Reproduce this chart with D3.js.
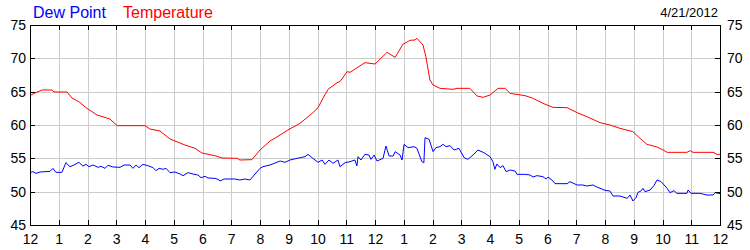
<!DOCTYPE html>
<head>
  <meta charset="utf-8">
  <script src="https://d3js.org/d3.v7.min.js"></script>
  <style>
    body { margin: 0; background: #fff; }
    svg { display: block; font-family: "Liberation Sans", Arial, sans-serif; }
    .grid line { stroke: #cccccc; shape-rendering: crispEdges; }
    .axis path, .axis line { stroke: #000; shape-rendering: crispEdges; }
    .axis text { fill: #000; font-size: 14px; font-family: "Liberation Sans", Arial, sans-serif; }
    .series { fill: none; stroke-width: 1; }
  </style>
</head>

<body>
  <svg width="750" height="250"></svg>

  <script>
    // hours since midnight, degrees F
    var tempHours = [0.00, 0.17, 0.42, 0.77, 0.83, 1.29, 1.46, 1.70, 1.98, 2.33, 2.78, 3.03, 4.00, 4.17,
      4.52, 4.87, 5.39, 5.74, 5.98, 6.43, 6.68, 7.20, 7.30, 7.72, 8.00, 8.35, 8.70, 8.97, 9.29, 9.39,
      9.84, 10.02, 10.19, 10.37, 10.68, 10.78, 11.03, 11.13, 11.65, 12.00, 12.42, 12.70, 12.97, 13.22,
      13.39, 13.46, 13.67, 13.77, 13.91, 14.02, 14.26, 14.71, 14.85, 15.30, 15.55, 15.76, 16.00, 16.28,
      16.52, 16.70, 17.22, 17.50, 17.84, 18.19, 18.68, 19.03, 19.37, 19.83, 20.17, 20.52, 20.97, 21.22,
      21.46, 21.81, 22.02, 22.16, 22.85, 22.96, 23.06, 23.76, 23.90, 24.00];
    var tempValues = [64.4, 64.8, 65.25, 65.25, 64.95, 64.95, 64.05, 63.5, 62.5, 61.5, 60.9, 59.9, 59.9, 59.4,
      59.1, 57.9, 57.0, 56.5, 55.8, 55.4, 55.05, 55.0, 54.75, 54.8, 56.25, 57.6, 58.5, 59.25, 60.0, 60.25,
      61.85, 62.6, 64.0, 65.35, 66.35, 66.5, 68.0, 67.9, 69.35, 69.15, 70.9, 70.15, 72.1, 72.7,
      72.75, 73.0, 72.0, 70.25, 66.75, 66.0, 65.5, 65.35, 65.5, 65.5, 64.35, 64.15, 64.5, 65.5,
      65.5, 64.75, 64.4, 64.0, 63.25, 62.65, 62.6, 61.85, 61.25, 60.35, 60.0, 59.5, 59.0, 58.0,
      57.1, 56.7, 56.25, 55.9, 55.9, 56.15, 55.9, 55.9, 55.6, 55.6];

    var dewHours = [0.00, 0.10, 0.21, 0.35, 0.70, 0.80, 0.90, 1.11, 1.25, 1.39, 1.53, 1.70, 1.84, 1.95,
      2.05, 2.19, 2.37, 2.47, 2.61, 2.71, 2.89, 3.13, 3.27, 3.48, 3.58, 3.69, 3.79, 3.93, 4.10, 4.28,
      4.38, 4.49, 4.63, 4.73, 4.87, 5.04, 5.22, 5.32, 5.50, 5.67, 5.84, 5.95, 6.09, 6.19, 6.43, 6.54,
      6.61, 6.75, 7.13, 7.30, 7.48, 7.65, 8.00, 8.10, 8.35, 8.70, 8.87, 9.04, 9.29, 9.57, 9.67, 9.84,
      10.02, 10.16, 10.26, 10.40, 10.54, 10.71, 10.78, 10.96, 11.13, 11.30, 11.37, 11.41, 11.51, 11.65,
      11.79, 11.86, 11.97, 12.07, 12.28, 12.38, 12.49, 12.63, 12.70, 12.87, 12.94, 13.01, 13.15, 13.36,
      13.46, 13.63, 13.70, 13.74, 13.88, 14.02, 14.12, 14.26, 14.37, 14.47, 14.61, 14.75, 14.92, 15.10,
      15.23, 15.41, 15.58, 15.79, 16.00, 16.10, 16.17, 16.24, 16.35, 16.45, 16.56, 16.70, 16.87, 16.94,
      17.22, 17.39, 17.50, 17.63, 17.84, 17.95, 18.02, 18.19, 18.26, 18.68, 18.78, 19.03, 19.23, 19.37,
      19.58, 19.72, 20.00, 20.17, 20.28, 20.52, 20.77, 20.87, 20.94, 20.97, 21.08, 21.15, 21.25, 21.32,
      21.39, 21.57, 21.70, 21.81, 21.95, 22.16, 22.26, 22.40, 22.50, 22.85, 22.89, 22.99, 23.30, 23.55,
      23.76, 23.83, 24.00];
    var dewValues = [52.85, 53.0, 52.75, 52.95, 53.05, 53.5, 52.9, 52.9, 54.35, 53.75, 54.0, 54.4, 53.85, 54.1,
      53.75, 54.0, 53.65, 53.8, 53.5, 53.95, 53.7, 53.65, 54.0, 54.0, 53.5, 54.0, 53.6, 54.1, 53.9, 53.6,
      53.15, 53.5, 53.35, 53.5, 52.85, 52.95, 52.65, 52.4, 52.85, 52.65, 52.5, 52.1, 52.3, 52.05, 52.0, 51.85,
      51.6, 51.9, 51.9, 51.75, 51.9, 51.75, 53.5, 53.75, 54.0, 54.6, 54.4, 54.75, 55.0, 55.25, 55.6, 55.0,
      54.4, 54.75, 54.1, 54.75, 54.25, 54.75, 53.75, 54.35, 54.5, 54.75, 53.85, 55.25, 54.75, 55.6,
      55.5, 54.85, 55.5, 54.6, 55.0, 56.85, 55.35, 55.35, 56.0, 55.5, 54.75, 57.1, 56.6, 56.75,
      56.5, 54.5, 54.35, 58.1, 57.85, 56.0, 56.6, 56.75, 57.1, 56.75, 56.9, 56.25, 56.5, 55.1,
      54.85, 55.5, 56.25, 55.85, 55.25, 54.5, 53.35, 54.15, 53.6, 53.9, 53.0, 53.25, 53.1, 52.6,
      52.6, 52.5, 52.2, 52.4, 52.25, 51.9, 52.2, 51.6, 51.2, 51.2, 51.5, 51.0, 51.0, 50.85,
      51.0, 50.7, 50.2, 50.1, 49.35, 49.35, 49.0, 49.5, 48.9, 48.6, 49.1, 49.9, 50.1, 50.5,
      50.0, 50.25, 50.9, 51.75, 51.5, 50.5, 49.85, 50.15, 49.75, 49.75, 50.25, 49.75, 49.75, 49.5,
      49.5, 49.85, 49.7];

    var hourTicks = d3.range(0, 25);
    var degreeTicks = [45, 50, 55, 60, 65, 70, 75];
    var seriesNames = ['Dew Point', 'Temperature'];
    var seriesColors = ['#0000ff', '#ff0000'];
    var dateLabel = '4/21/2012';

    var plotLeft = 30, plotRight = 720, plotTop = 25, plotBottom = 225;
    var svg = d3.select('svg');

    var x = d3.scaleLinear().domain([0, 24]).range([plotLeft, plotRight]);
    var y = d3.scaleLinear().domain([45, 75]).range([plotBottom, plotTop]);

    // grid
    var grid = svg.append('g').classed('grid', true);
    grid.selectAll('line.v')
      .data(hourTicks.slice(1, -1)).enter().append('line')
      .attr('x1', function(d) {return Math.round(x(d)) + 0.5})
      .attr('x2', function(d) {return Math.round(x(d)) + 0.5})
      .attr('y1', plotTop).attr('y2', plotBottom);
    grid.selectAll('line.h')
      .data(degreeTicks.slice(1, -1)).enter().append('line')
      .attr('y1', function(d) {return Math.round(y(d)) + 0.5})
      .attr('y2', function(d) {return Math.round(y(d)) + 0.5})
      .attr('x1', plotLeft).attr('x2', plotRight);

    // series
    var line = d3.line()
      .x(function(d) {return x(d[0])})
      .y(function(d) {return y(d[1])});
    var series = [d3.zip(dewHours, dewValues), d3.zip(tempHours, tempValues)];
    svg.selectAll('path.series')
      .data(series).enter().append('path')
      .classed('series', true)
      .attr('stroke', function(d, i) {return seriesColors[i]})
      .attr('d', line);

    // axes, ticks point inward
    var hourFormat = function(h) {return h % 12 === 0 ? 12 : h % 12};
    svg.append('g').classed('axis', true)
      .attr('transform', 'translate(0,' + plotBottom + ')')
      .call(d3.axisBottom(x).tickValues(hourTicks).tickFormat(hourFormat)
        .tickSizeInner(-5).tickSizeOuter(0).tickPadding(9));
    svg.append('g').classed('axis', true)
      .attr('transform', 'translate(0,' + plotTop + ')')
      .call(d3.axisTop(x).tickValues(hourTicks).tickFormat('')
        .tickSizeInner(-5).tickSizeOuter(0));
    svg.append('g').classed('axis', true)
      .attr('transform', 'translate(' + plotLeft + ',0)')
      .call(d3.axisLeft(y).tickValues(degreeTicks)
        .tickSizeInner(-5).tickSizeOuter(0).tickPadding(4));
    svg.append('g').classed('axis', true)
      .attr('transform', 'translate(' + plotRight + ',0)')
      .call(d3.axisRight(y).tickValues(degreeTicks)
        .tickSizeInner(-5).tickSizeOuter(0).tickPadding(7));

    // legend and date
    var legendX = [33, 123];
    svg.selectAll('text.legend')
      .data(seriesNames).enter().append('text')
      .classed('legend', true)
      .attr('x', function(d, i) {return legendX[i]})
      .attr('y', 18)
      .attr('fill', function(d, i) {return seriesColors[i]})
      .style('font-size', '16px')
      .text(function(d) {return d});
    svg.append('text')
      .attr('x', 718).attr('y', 17)
      .attr('text-anchor', 'end')
      .style('font-size', '13px')
      .text(dateLabel);
  </script>
</body>
